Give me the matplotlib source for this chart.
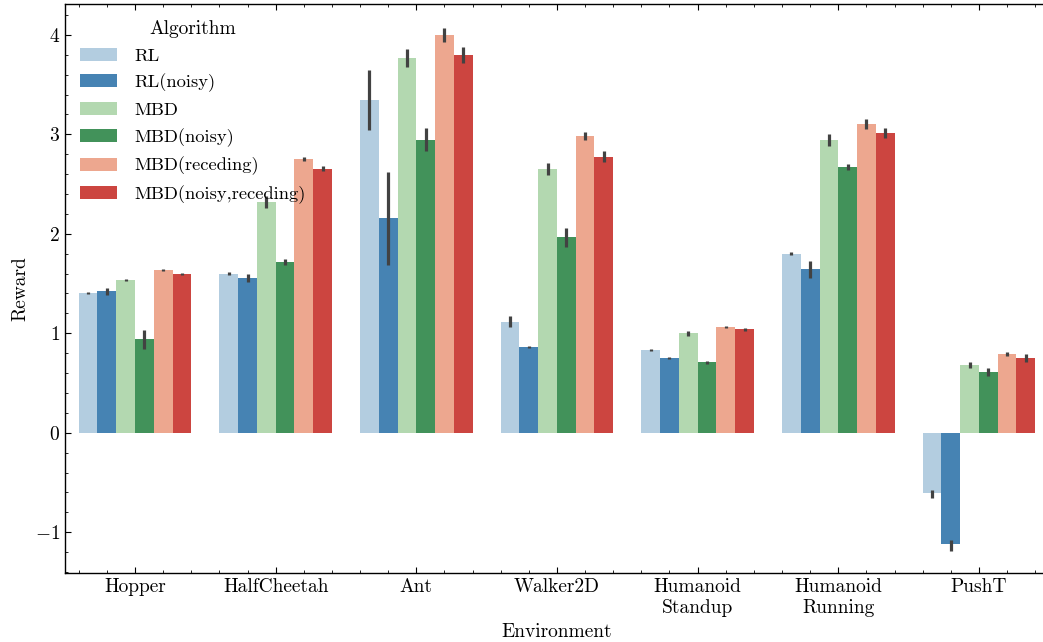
import numpy as np
import matplotlib
matplotlib.use("Agg")
import matplotlib.pyplot as plt
from matplotlib.ticker import AutoMinorLocator, MultipleLocator

# ==========================================
#              DATA
# ==========================================
environments = ["Hopper", "HalfCheetah", "Ant", "Walker2D",
                "Humanoid\nStandup", "Humanoid\nRunning", "PushT"]
algorithms = ["RL", "RL(noisy)", "MBD", "MBD(noisy)",
              "MBD(receding)", "MBD(noisy,receding)"]

# mean reward per algorithm (one value per environment)
rl_mean = [1.40, 1.60, 3.34, 1.11, 0.83, 1.80, -0.61]
rl_noisy_mean = [1.42, 1.56, 2.16, 0.865, 0.75, 1.65, -1.12]
mbd_mean = [1.54, 2.32, 3.77, 2.65, 1.00, 2.94, 0.68]
mbd_noisy_mean = [0.945, 1.72, 2.94, 1.97, 0.71, 2.67, 0.61]
mbd_rec_mean = [1.64, 2.75, 4.00, 2.98, 1.06, 3.10, 0.79]
mbd_noisy_rec_mean = [1.60, 2.65, 3.80, 2.77, 1.04, 3.01, 0.75]

# confidence interval (low, high)
rl_ci = [(1.39, 1.41), (1.585, 1.615), (3.04, 3.65), (1.06, 1.17), (0.82, 0.84), (1.785, 1.815), (-0.66, -0.58)]
rl_noisy_ci = [(1.385, 1.45), (1.515, 1.60), (1.69, 2.62), (0.855, 0.875), (0.74, 0.76), (1.56, 1.73), (-1.19, -1.08)]
mbd_ci = [(1.53, 1.55), (2.26, 2.38), (3.68, 3.86), (2.59, 2.71), (0.97, 1.02), (2.88, 3.00), (0.65, 0.71)]
mbd_noisy_ci = [(0.84, 1.03), (1.69, 1.75), (2.83, 3.06), (1.87, 2.06), (0.69, 0.72), (2.64, 2.70), (0.57, 0.65)]
mbd_rec_ci = [(1.625, 1.65), (2.73, 2.77), (3.93, 4.07), (2.94, 3.02), (1.05, 1.07), (3.05, 3.15), (0.77, 0.81)]
mbd_noisy_rec_ci = [(1.59, 1.61), (2.63, 2.68), (3.72, 3.88), (2.72, 2.83), (1.025, 1.055), (2.96, 3.06), (0.71, 0.79)]

means = [rl_mean, rl_noisy_mean, mbd_mean, mbd_noisy_mean, mbd_rec_mean, mbd_noisy_rec_mean]
cis = [rl_ci, rl_noisy_ci, mbd_ci, mbd_noisy_ci, mbd_rec_ci, mbd_noisy_rec_ci]
colors = ["#b3cde0", "#4683b3", "#b3d8b0", "#42925a", "#eda78f", "#cc4540"]

# ==========================================
#              STYLE
# ==========================================
plt.rcParams.update({
    "font.family": "serif",
    "font.serif": ["cmr10"],
    "mathtext.fontset": "cm",
    "axes.formatter.use_mathtext": True,
    "axes.unicode_minus": True,
    "font.size": 14,
    "axes.linewidth": 1.0,
    "xtick.direction": "in",
    "ytick.direction": "in",
    "xtick.top": True,
    "ytick.right": True,
    "xtick.major.size": 4.5,
    "ytick.major.size": 4.5,
    "xtick.minor.size": 2.2,
    "ytick.minor.size": 2.2,
    "xtick.minor.visible": True,
    "ytick.minor.visible": True,
})

fig = plt.figure(figsize=(10.43, 6.42), dpi=100)
# right spine falls just outside the canvas, as in the cropped original
ax = fig.add_axes([0.062, 0.1075, 0.944, 0.8863])

# ==========================================
#              BARS
# ==========================================
x = np.arange(len(environments))
n = len(algorithms)
width = 0.8 / n

for i, (alg, m, ci, c) in enumerate(zip(algorithms, means, cis, colors)):
    pos = x - 0.4 + width * (i + 0.5)
    m = np.array(m)
    lo = np.array([a for a, b in ci])
    hi = np.array([b for a, b in ci])
    ax.bar(pos, m, width=width, color=c, label=alg, linewidth=0)
    ax.errorbar(pos, m, yerr=[m - lo, hi - m], fmt="none",
                ecolor="#424242", elinewidth=2.3, capsize=0)

ax.set_xlim(-0.5, 6.5)
ax.set_ylim(-1.41, 4.31)
ax.set_xticks(x)
ax.set_xticklabels(environments)
ax.xaxis.set_minor_locator(AutoMinorLocator(5))
ax.yaxis.set_major_locator(MultipleLocator(1))
ax.yaxis.set_minor_locator(AutoMinorLocator(5))

ax.set_xlabel("Environment", labelpad=4.5)
ax.set_ylabel("Reward")

ax.legend(title="Algorithm", loc="upper left", frameon=False,
          fontsize=13.3, title_fontsize=14, labelspacing=0.54,
          handletextpad=0.9, borderaxespad=0.45)

fig.savefig("out.png", dpi=100)
